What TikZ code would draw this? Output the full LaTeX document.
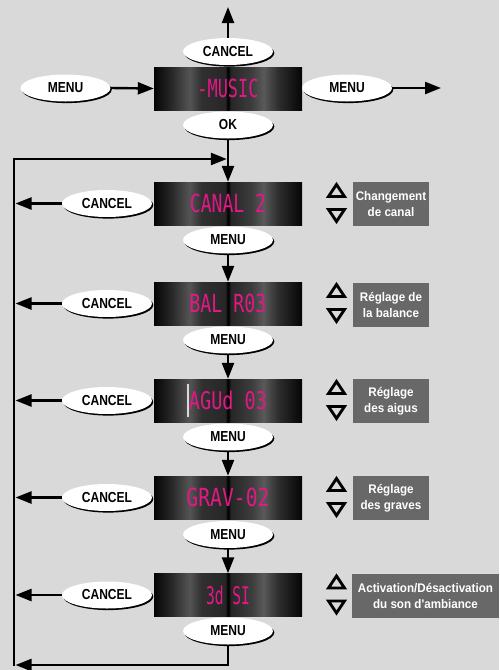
\documentclass[tikz,border=0pt]{standalone}
\usepackage{graphicx}
\usepackage{fontspec}
\setmainfont{Liberation Sans}
\newfontfamily\ellfont{Liberation Sans}[FakeStretch=0.83]
\newfontfamily\boxfont{Liberation Sans}[FakeStretch=0.93]
\newfontfamily\lcdfont{DejaVu Sans Mono}
\usetikzlibrary{arrows.meta,shapes.geometric,shadows}
\definecolor{bg}{RGB}{217,217,217}
\definecolor{lcdpink}{RGB}{226,24,134}
\definecolor{boxgray}{RGB}{104,104,104}
\pgfdeclarehorizontalshading{lcd}{100bp}{rgb(0bp)=(0.02,0.02,0.02); rgb(25bp)=(0.02,0.02,0.02); rgb(31bp)=(0.16,0.16,0.16); rgb(37bp)=(0.33,0.33,0.33); rgb(41bp)=(0.19,0.19,0.19); rgb(49bp)=(0.15,0.15,0.15); rgb(50bp)=(0.0,0.0,0.0); rgb(51bp)=(0.15,0.15,0.15); rgb(58bp)=(0.24,0.24,0.24); rgb(62bp)=(0.35,0.35,0.35); rgb(67bp)=(0.18,0.18,0.18); rgb(75bp)=(0.02,0.02,0.02); rgb(100bp)=(0.02,0.02,0.02)}
\newcommand\lcdtxt[2]{\resizebox{#1pt}{18.5pt}{\lcdfont #2}}
\tikzset{
  ell/.style={ellipse, fill=white, minimum width=90pt, minimum height=27pt, inner sep=0pt,
    font=\ellfont\bfseries\fontsize{14.5}{15}\selectfont,
    general shadow={fill=black, shadow xshift=1.3pt, shadow yshift=-1.6pt}},
  lcdbox/.style={rectangle, shading=lcd, minimum width=148pt, minimum height=43pt, inner sep=0pt, text=lcdpink},
  infobox/.style={rectangle, fill=boxgray, text=white, minimum width=76pt, minimum height=44pt, inner sep=0pt, align=center,
    font=\boxfont\bfseries\fontsize{12.5}{16}\selectfont},
  arr/.style={line width=2.4pt, -{Triangle[length=16pt,width=12pt]}},
  tri/.style={draw=black, line width=2.8pt, line join=miter},
  pics/updown/.style={code={
    \draw[tri] (-8,-7) -- (8,-7) -- (0,-19) -- cycle;
    \draw[tri] (-8,6) -- (8,6) -- (0,18) -- cycle;}}
}
\begin{document}
\begin{tikzpicture}[x=1pt,y=-1pt]
\useasboundingbox (0,0) rectangle (499,670);
\fill[bg] (0,0) rectangle (499,670);

% top block
\node[lcdbox] (d0) at (228,88.5) {\lcdtxt{61}{-MUSIC}};
\node[ell] (topcancel) at (228,51.5) {CANCEL};
\node[ell] (menuL) at (65.5,88) {MENU};
\node[ell] (menuR) at (347,88) {MENU};
\node[ell] (ok) at (228,125) {OK};
\coordinate (topend) at (228,7);
\coordinate (rightend) at (441,88);
\draw[arr] (topcancel.north) -- (topend);
\draw[arr] (menuL.east) -- (d0.west);
\draw[arr] (menuR.east) -- (rightend);

% rows
\node[lcdbox] (d1) at (228,203.5) {\lcdtxt{76}{CANAL 2}};
\node[lcdbox] (d2) at (228,303.5) {\lcdtxt{77}{BAL R03}};
\node[lcdbox] (d3) at (228,400.5) {\lcdtxt{78}{AGUd 03}};
\node[lcdbox] (d4) at (228,497.5) {\lcdtxt{83}{GRAV-02}};
\node[lcdbox] (d5) at (228,595) {\lcdtxt{44}{3d SI}};
\draw[white!85!black, line width=1.5pt] (188,384) -- (188,417);

\node[ell] (c1) at (107,203.5) {CANCEL};
\node[ell] (c2) at (107,303.5) {CANCEL};
\node[ell] (c3) at (107,400.5) {CANCEL};
\node[ell] (c4) at (107,497.5) {CANCEL};
\node[ell] (c5) at (107,595) {CANCEL};

\node[ell] (m1) at (228,240) {MENU};
\node[ell] (m2) at (228,340) {MENU};
\node[ell] (m3) at (228,437) {MENU};
\node[ell] (m4) at (228,534.5) {MENU};
\node[ell] (m5) at (228,631) {MENU};

\node[infobox] (i1) at (391,204) {Changement\\de canal};
\node[infobox] (i2) at (391,304.5) {Réglage de\\la balance};
\node[infobox] (i3) at (391,401) {Réglage\\des aigus};
\node[infobox] (i4) at (391,498) {Réglage\\des graves};
\node[infobox, minimum width=147pt] (i5) at (425.5,596) {Activation/Désactivation\\du son d'ambiance};

\pic at (336.5,203.5) {updown};
\pic at (336.5,303.5) {updown};
\pic at (336.5,400.5) {updown};
\pic at (336.5,497.5) {updown};
\pic at (336.5,595) {updown};

% vertical flow
\draw[arr] (ok.south) -- (d1.north);
\draw[arr] (m1.south) -- (d2.north);
\draw[arr] (m2.south) -- (d3.north);
\draw[arr] (m3.south) -- (d4.north);
\draw[arr] (m4.south) -- (d5.north);

% loop line
\coordinate (loopBot) at (14,666.2);
\coordinate (loopTop) at (14,159);
\coordinate (joinTop) at (226.8,159);
\coordinate (botEnd) at (15.5,665);
\draw[arr] (loopBot) -- (loopTop) -- (joinTop);
\draw[arr] (m5.south) |- (botEnd);

% cancel arrows
\coordinate (e1) at (15.5,203.5);
\coordinate (e2) at (15.5,303.5);
\coordinate (e3) at (15.5,400.5);
\coordinate (e4) at (15.5,497.5);
\coordinate (e5) at (15.5,595);
\draw[arr] (c1.west) -- (e1);
\draw[arr] (c2.west) -- (e2);
\draw[arr] (c3.west) -- (e3);
\draw[arr] (c4.west) -- (e4);
\draw[arr] (c5.west) -- (e5);
\end{tikzpicture}
\end{document}
